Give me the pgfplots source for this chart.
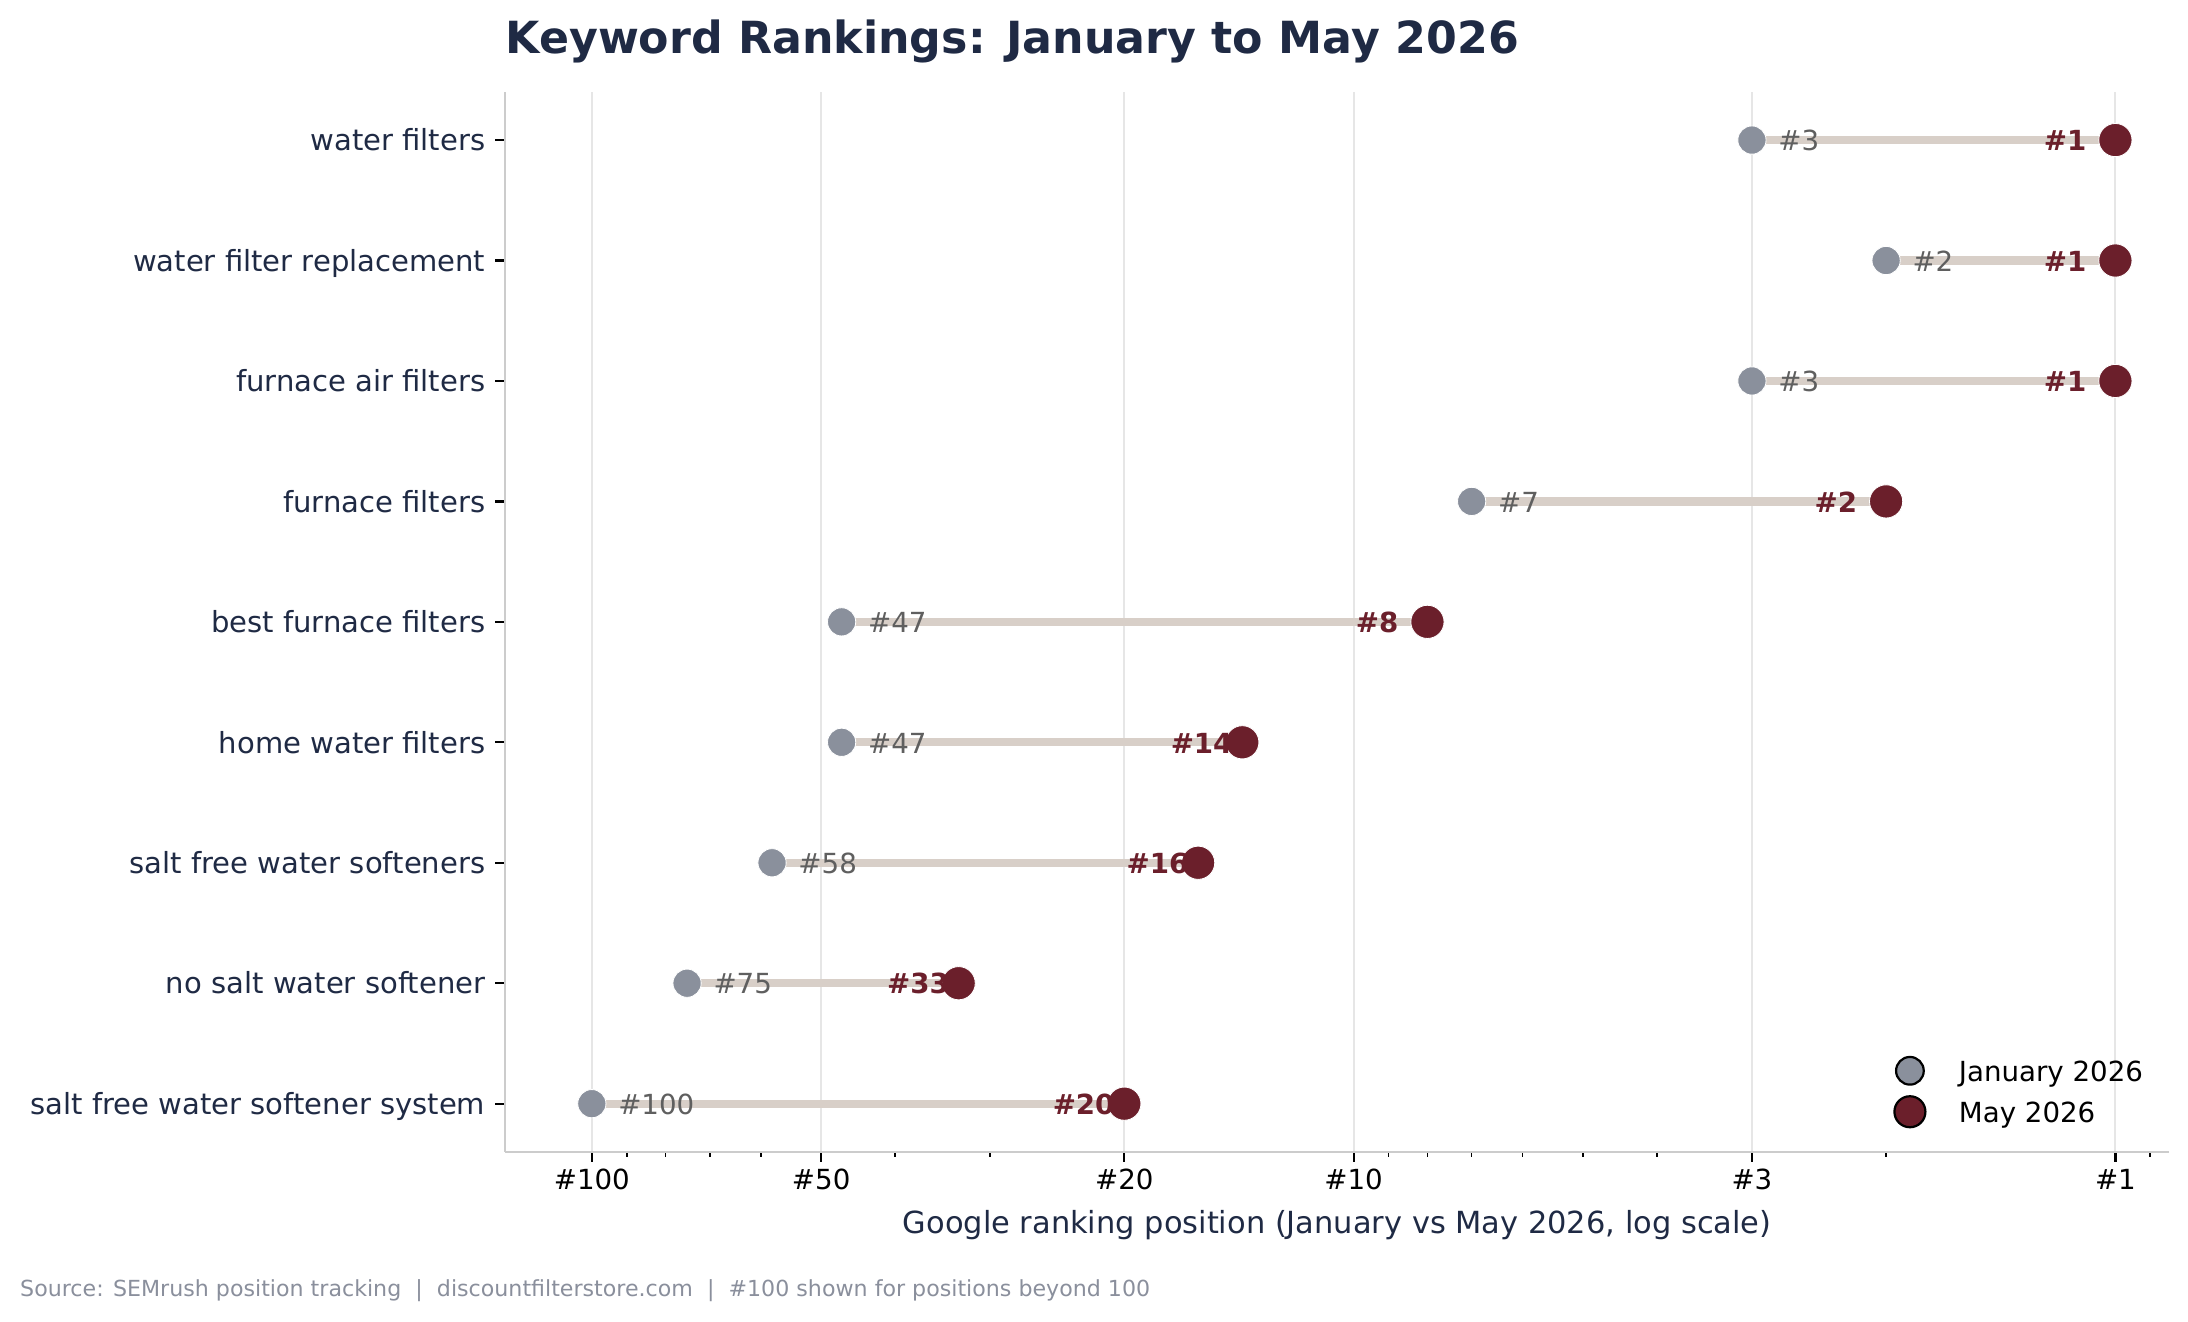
\documentclass[border=0pt]{standalone}
\usepackage{fontspec}
\setmainfont{DejaVu Sans}
\usepackage{pgfplots}
\pgfplotsset{compat=1.18}
\usepackage{pgfplotstable}

\definecolor{janc}{HTML}{8A909C}
\definecolor{mayc}{HTML}{6B1F2B}
\definecolor{linec}{HTML}{D8CFC8}
\definecolor{janlbl}{HTML}{5F5F5F}
\definecolor{navy}{HTML}{1F2A44}
\definecolor{footc}{HTML}{8A8F9C}
\definecolor{gridc}{HTML}{E6E6E6}
\definecolor{spinec}{HTML}{CCCCCC}

\pgfplotstableread{
y jan may
8 3 1
7 2 1
6 3 1
5 7 2
4 47 8
3 47 14
2 58 16
1 75 33
0 100 20
}\ranks

\begin{document}
\begin{tikzpicture}
\path[use as bounding box] (-182.5pt,-61.4pt) rectangle (608.1pt,416.2pt);
\begin{axis}[
  at={(0,0)}, anchor=south west,
  width=601.3pt, height=383pt, scale only axis,
  xmode=log, x dir=reverse,
  xmin=0.85, xmax=130,
  ymin=-0.4, ymax=8.4,
  clip=false,
  axis x line*=bottom, axis y line*=left,
  axis line style={draw=spinec, line width=0.9pt, -},
  tick align=outside,
  major tick length=3.6pt, minor tick length=1.8pt,
  major tick style={black, line width=0.8pt},
  minor tick style={black, line width=0.6pt},
  xtick={1,3,10,20,50,100},
  xticklabels={\#1,\#3,\#10,\#20,\#50,\#100},
  minor xtick={0.9,2,4,5,6,7,8,9,30,40,60,70,80,90},
  ytick={0,1,2,3,4,5,6,7,8},
  minor ytick={},
  yticklabels={salt free water softener system,no salt water softener,salt free water softeners,home water filters,best furnace filters,furnace filters,furnace air filters,water filter replacement,water filters},
  xticklabel style={font=\fontsize{10}{12}\selectfont, text=black, inner sep=0pt, anchor=north, yshift=-2.35pt},
  yticklabel style={font=\fontsize{10.5}{12}\selectfont, text=navy, inner sep=0pt, anchor=base east, xshift=-3.35pt, yshift=-3.87pt},
  xmajorgrids,
  major x grid style={draw=gridc, line width=0.72pt},
  xlabel={Google ranking position (January vs May 2026, log scale)},
  xlabel style={at={(axis description cs:0.5,0)}, anchor=base, yshift=-29.6pt, inner sep=0pt, font=\fontsize{11}{13}\selectfont, text=navy},
  legend cell align=left,
  legend style={at={(axis description cs:0.8349,0.0958)}, anchor=north west, draw=none, fill=none, inner sep=0pt, outer sep=0pt, row sep=0pt,
    font=\fontsize{10}{12}\selectfont, nodes={inner sep=0pt},
    /tikz/every odd column/.append style={column sep=12.1pt}},
  legend image code/.code={\draw[#1] plot coordinates {(0pt,1.05pt)}; \path[draw=none, fill=none] (-5pt,-6.35pt) rectangle (5pt,8.45pt);},
]
% connectors
\addplot[linec, line width=3pt, forget plot] coordinates {(3,8) (1,8)};
\addplot[linec, line width=3pt, forget plot] coordinates {(2,7) (1,7)};
\addplot[linec, line width=3pt, forget plot] coordinates {(3,6) (1,6)};
\addplot[linec, line width=3pt, forget plot] coordinates {(7,5) (2,5)};
\addplot[linec, line width=3pt, forget plot] coordinates {(47,4) (8,4)};
\addplot[linec, line width=3pt, forget plot] coordinates {(47,3) (14,3)};
\addplot[linec, line width=3pt, forget plot] coordinates {(58,2) (16,2)};
\addplot[linec, line width=3pt, forget plot] coordinates {(75,1) (33,1)};
\addplot[linec, line width=3pt, forget plot] coordinates {(100,0) (20,0)};
% January
\addplot[only marks, mark=*, mark size=5.1pt, mark options={fill=janc, draw=white, line width=0.3pt}, forget plot,
  point meta=explicit symbolic,
  nodes near coords={\#\pgfplotspointmeta},
  nodes near coords style={anchor=base west, inner sep=0pt, xshift=9.4pt, yshift=-3.87pt, font=\fontsize{10}{12}\selectfont, text=janlbl}]
  table[x=jan, y=y, meta=jan] {\ranks};
% May
\addplot[only marks, mark=*, mark size=6pt, mark options={fill=mayc, draw=white, line width=0.3pt}, forget plot,
  point meta=explicit symbolic,
  nodes near coords={\#\pgfplotspointmeta},
  nodes near coords style={anchor=base west, inner sep=0pt, xshift=-26pt, yshift=-3.87pt, font=\fontsize{10}{12}\selectfont\bfseries, text=mayc}]
  table[x=may, y=y, meta=may] {\ranks};
\addlegendimage{only marks, mark=*, mark size=5pt, mark options={fill=janc, draw=black, line width=0.8pt}}
\addlegendentry{January 2026}
\addlegendimage{only marks, mark=*, mark size=5.6pt, mark options={fill=mayc, draw=black, line width=0.8pt}}
\addlegendentry{May 2026}
\end{axis}
\node[anchor=base west, inner sep=0pt, font=\fontsize{16}{20}\selectfont\bfseries, text=navy] at (0pt,396.7pt) {Keyword Rankings: January to May 2026};
\node[anchor=base west, inner sep=0pt, font=\fontsize{8}{10}\selectfont, text=footc] at (-175.4pt,-52.4pt) {Source: SEMrush position tracking\ \ |\ \ discountfilterstore.com\ \ |\ \ \#100 shown for positions beyond 100};
\end{tikzpicture}
\end{document}
